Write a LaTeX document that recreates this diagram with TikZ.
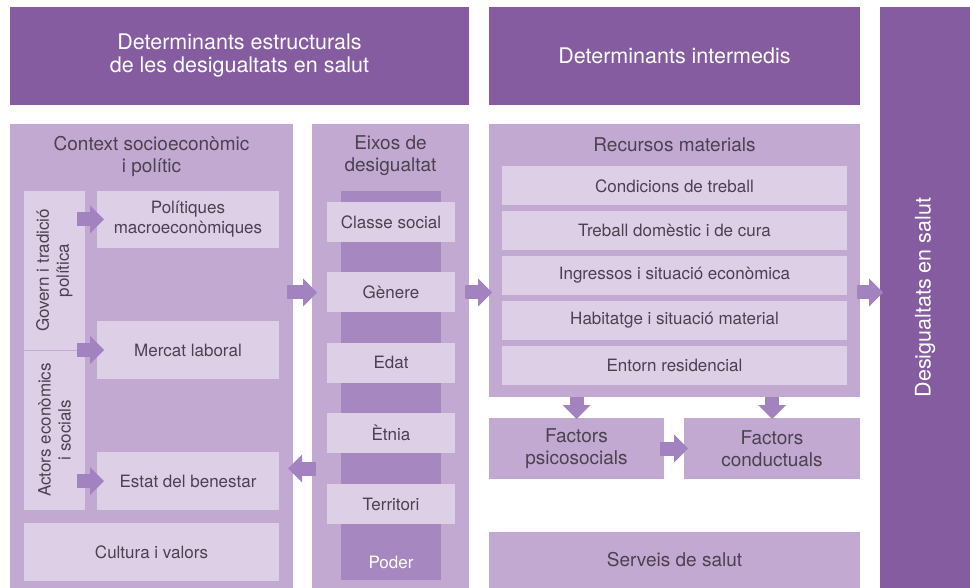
\documentclass[tikz,border=0pt]{standalone}
\usepackage{fontspec}
\setmainfont{TeX Gyre Heros}
\usetikzlibrary{arrows.meta,calc}
\definecolor{fosc}{HTML}{855CA0}
\definecolor{mig}{HTML}{C2A9D2}
\definecolor{clar}{HTML}{DDD0E6}
\definecolor{barra}{HTML}{A687C0}
\definecolor{fletxac}{HTML}{A283C0}
\definecolor{tinta}{HTML}{4B4150}
\begin{document}
\begin{tikzpicture}[x=1pt,y=-1pt,inner sep=0pt,outer sep=0pt]
\tikzstyle{capbox}=[fill=fosc,text=white,align=center,font=\fontsize{21.5}{23}\selectfont]
\tikzstyle{panellbox}=[fill=mig]
\tikzstyle{titol}=[text=tinta,align=center,font=\fontsize{19}{22}\selectfont]
\tikzstyle{itembox}=[fill=clar,text=tinta,align=center,font=\fontsize{17}{20}\selectfont]
\tikzstyle{factorbox}=[fill=mig,text=tinta,align=center,font=\fontsize{19}{22}\selectfont]
\tikzstyle{fletxa}=[draw=fletxac,line width=14pt,-{Triangle[width=28pt,length=14pt,line width=0pt]},shorten <=-6pt,shorten >=-5pt]
\useasboundingbox (0,0) rectangle (970,588);
% capcaleres
\node[capbox,minimum width=459pt,minimum height=98pt] (estr) at (239.5,56) {Determinants estructurals\\de les desigualtats en salut};
\node[capbox,minimum width=371pt,minimum height=98pt] (inter) at (674.5,56) {Determinants intermedis};
\node[capbox,minimum width=90pt,minimum height=581pt] (des) at (925,297.5) {};
\node[capbox,rotate=90] (destxt) at (des) {Desigualtats en salut};
% context
\node[panellbox,minimum width=283pt,minimum height=464pt] (ctx) at (151.5,356) {};
\node[titol] (ctxtit) at (151.5,156) {Context socioeconòmic\\i polític};
\node[itembox,minimum width=61pt,minimum height=159pt] (gov) at (54.5,270.5) {};
\node[itembox,rotate=90] at (gov) {Govern i tradició\\política};
\node[itembox,minimum width=61pt,minimum height=160pt] (act) at (54.5,430) {};
\node[itembox,rotate=90] at (act) {Actors econòmics\\i socials};
\draw[mig,line width=0.8pt] (gov.south west) -- (gov.south east);
\node[itembox,minimum width=182pt,minimum height=57pt] (pol) at (188,219.5) {Polítiques\\macroeconòmiques};
\node[itembox,minimum width=182pt,minimum height=58pt] (mer) at (188,350) {Mercat laboral};
\node[itembox,minimum width=182pt,minimum height=58pt] (est) at (188,481) {Estat del benestar};
\node[itembox,minimum width=255pt,minimum height=58pt] (cul) at (151.5,552) {Cultura i valors};
% eixos
\node[panellbox,minimum width=157pt,minimum height=464pt] (eix) at (390.5,356) {};
\node[titol] (eixtit) at (390.5,156) {Eixos de\\desigualtat};
\node[fill=barra,minimum width=100pt,minimum height=389pt] (bar) at (391,385.5) {};
\node[itembox,minimum width=128pt,minimum height=40pt] (cla) at (391,222) {Classe social};
\node[itembox,minimum width=128pt,minimum height=40pt] (gen) at (391,292.5) {Gènere};
\node[itembox,minimum width=128pt,minimum height=40pt] (eda) at (391,362.5) {Edat};
\node[itembox,minimum width=128pt,minimum height=40pt] (etn) at (391,433) {Ètnia};
\node[itembox,minimum width=128pt,minimum height=40pt] (ter) at (391,504) {Territori};
\node[text=white,font=\fontsize{17}{20}\selectfont] (pod) at (391,562) {Poder};
% recursos
\node[panellbox,minimum width=371pt,minimum height=273pt] (rec) at (674.5,260.5) {};
\node[titol] (rectit) at (674.5,145) {Recursos materials};
\node[itembox,minimum width=345pt,minimum height=39pt] (cond) at (674.5,186) {Condicions de treball};
\node[itembox,minimum width=345pt,minimum height=39pt] (treb) at (674.5,230.75) {Treball domèstic i de cura};
\node[itembox,minimum width=345pt,minimum height=39pt] (ingr) at (674.5,275.5) {Ingressos i situació econòmica};
\node[itembox,minimum width=345pt,minimum height=39pt] (hab) at (674.5,320.25) {Habitatge i situació material};
\node[itembox,minimum width=345pt,minimum height=39pt] (ent) at (674.5,365) {Entorn residencial};
\node[factorbox,minimum width=175pt,minimum height=61pt] (psi) at (576.5,448.5) {Factors\\psicosocials};
\node[factorbox,minimum width=176pt,minimum height=61pt] (con) at (772,448.5) {Factors\\conductuals};
\node[factorbox,minimum width=371pt,minimum height=56pt] (ser) at (674.5,560) {Serveis de salut};
% fletxes
\draw[fletxa,shorten <=-8pt,shorten >=-7pt] (gov.east |- pol.west) -- (pol.west);
\draw[fletxa,shorten <=-8pt,shorten >=-7pt] (gov.east |- mer.west) -- (mer.west);
\draw[fletxa,shorten <=-8pt,shorten >=-7pt] (act.east |- est.west) -- (est.west);
\draw[fletxa] (ctx.east |- gen.west) -- (eix.west |- gen.west);
\draw[fletxa,shorten <=-4pt,shorten >=-3pt] (eix.east |- gen.east) -- (rec.west |- gen.east);
\draw[fletxa,shorten <=-3pt,shorten >=-3pt] (rec.east |- gen.east) -- (des.west |- gen.east);
\coordinate (torna) at ($(etn.south)!.5!(ter.north)$);
\draw[fletxa,shorten <=-4pt] (eix.west |- torna) -- (ctx.east |- torna);
\draw[fletxa,shorten <=0pt,shorten >=-1pt] (psi.north |- rec.south) -- (psi.north);
\draw[fletxa,shorten <=0pt,shorten >=-1pt] (con.north |- rec.south) -- (con.north);
\draw[fletxa,shorten <=-4pt,shorten >=-4pt] (psi.east) -- (con.west);
\end{tikzpicture}
\end{document}
